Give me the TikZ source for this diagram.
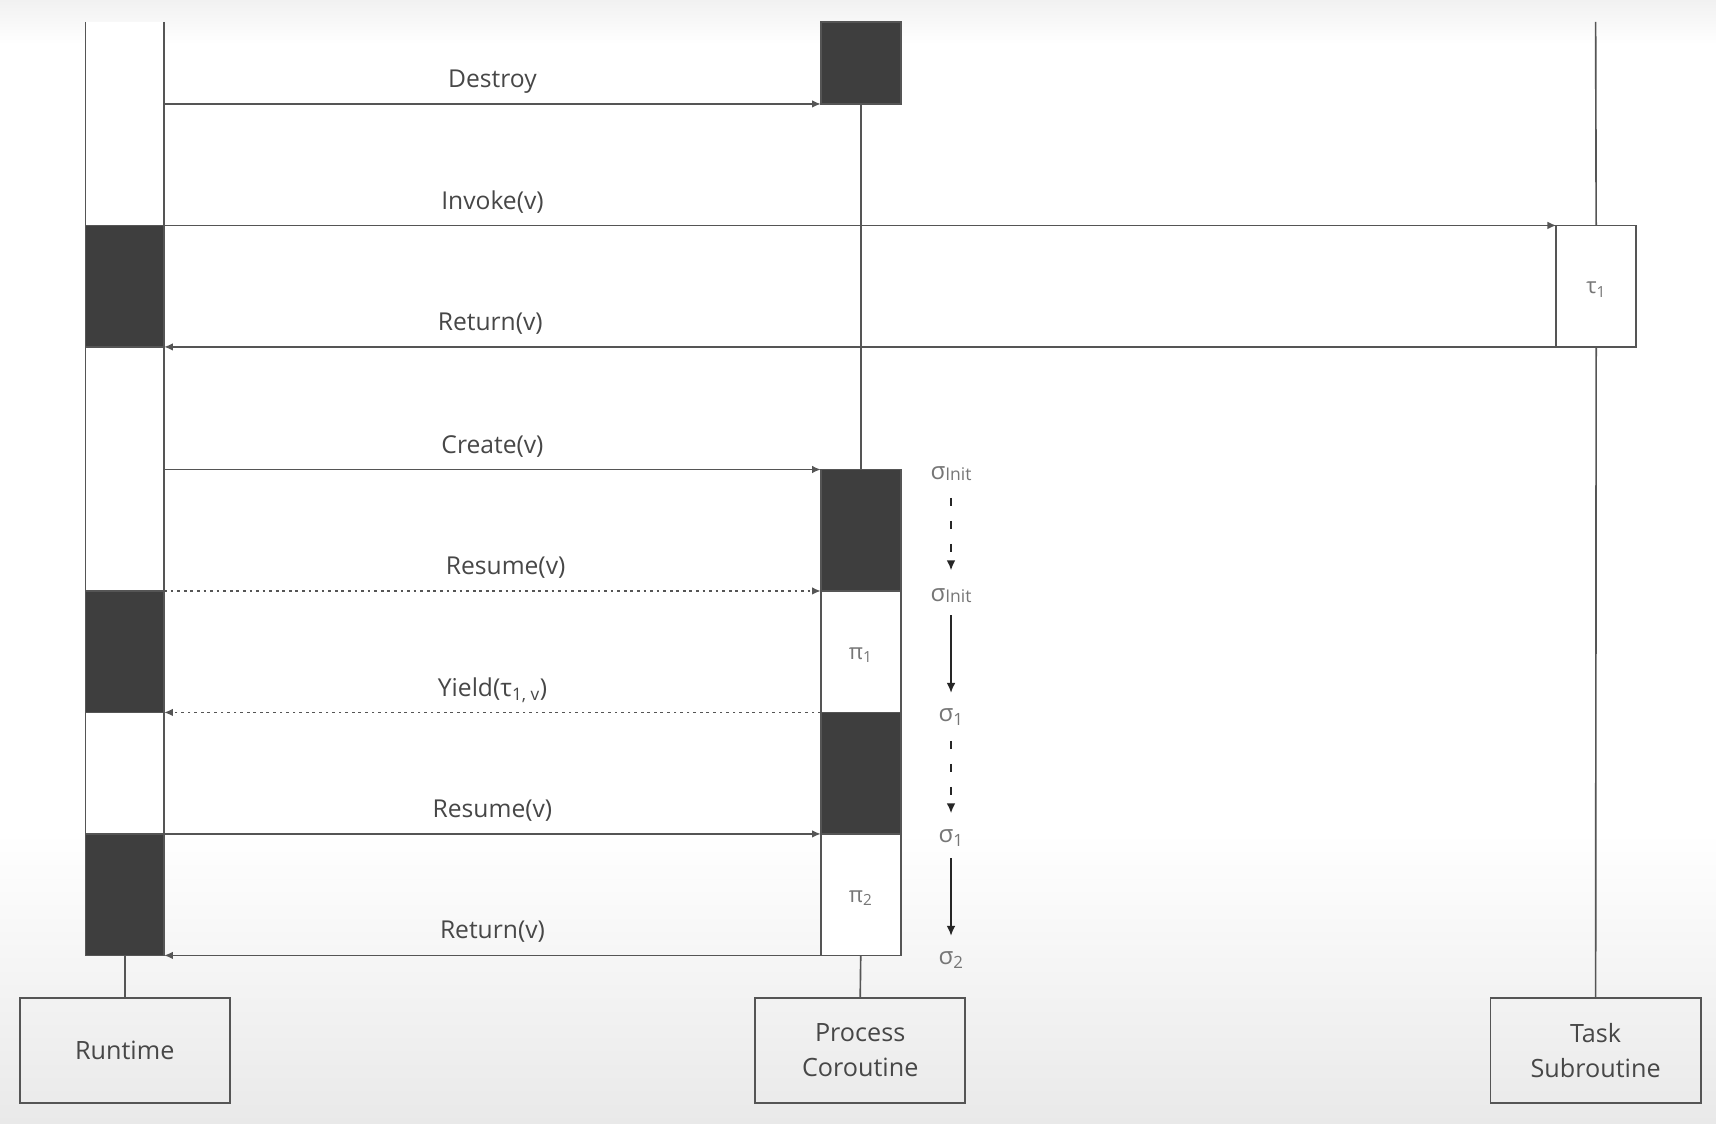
\documentclass[tikz,border=0pt]{standalone}
\usepackage{fontspec}
\setmainfont{Open Sans}
\usetikzlibrary{arrows.meta,calc}
\definecolor{ln}{HTML}{555555}
\definecolor{blk}{HTML}{3E3E3E}
\definecolor{txt}{HTML}{474747}
\definecolor{st}{HTML}{767676}
\definecolor{bgbot}{HTML}{E9E9E9}
\definecolor{bgtop}{HTML}{F1F1F1}
\begin{document}
\begin{tikzpicture}[x=1pt,y=-1pt,
  line/.style={draw=ln, line width=1.5pt},
  msg/.style={draw=ln, line width=1.5pt, -{Latex[length=8pt,width=7pt]}},
  dotmsg/.style={msg, line width=1.7pt, dash pattern=on 2.5pt off 3.5pt},
  act/.style={draw=ln, line width=1.5pt, fill=white, inner sep=0pt, outer sep=0pt,
              minimum width=73pt, minimum height=111pt},
  actb/.style={act, fill=blk},
  lbl/.style={text=txt, font=\fontsize{22.5}{26}\selectfont, inner sep=0pt, anchor=base},
  head/.style={draw=ln, line width=1.5pt, inner sep=0pt, outer sep=0pt,
               minimum width=192pt, minimum height=96pt, text=txt, align=center,
               font=\fontsize{23}{32}\selectfont},
  small/.style={text=st, font=\fontsize{20}{22}\selectfont, inner sep=0pt},
  state/.style={text=st, font=\fontsize{22}{24}\selectfont, inner sep=0pt},
  stsolid/.style={draw=black!85, line width=1.4pt, -{Latex[length=9pt,width=8pt]}},
  stdash/.style={stsolid, dash pattern=on 7pt off 14pt}
]
% background
\useasboundingbox (0,0) rectangle (1568,1027);
\fill[white] (0,0) rectangle (1568,1027);
\shade[top color=bgtop, bottom color=white] (0,0) rectangle (1568,40);
\shade[top color=white, bottom color=bgbot] (0,760) rectangle (1568,1027);

% heads
\node[head] (rtbox) at (114,960) {Runtime};
\node[head] (pcbox) at (786,960) {Process\\Coroutine};
\node[head] (tsbox) at (1458,960) {Task\\Subroutine};

% runtime column
\fill[white] (78,20) rectangle (150,873);
\coordinate (rtTL) at (78,20);
\coordinate (rtTR) at (150,20);
\coordinate (rtBL) at (78,873);
\coordinate (rtBR) at (150,873);
\draw[line] (rtTL) -- (rtBL);
\draw[line] (rtTR) -- (rtBR);
\node[actb, minimum width=72pt] (rA) at (114,261.5) {};
\node[actb, minimum width=72pt] (rB) at (114,595.5) {};
\node[actb, minimum width=72pt] (rC) at (114,817.5) {};

% process column
\node[actb, minimum height=75pt] (pA) at (786.5,57.5) {};
\node[actb] (pB) at (786.5,484.5) {};
\node[act] (pC) at (786.5,595.5) {};
\node[actb] (pD) at (786.5,706.5) {};
\node[act] (pE) at (786.5,817.5) {};
\node[small] at ($(pC)+(0,3)$) {π\textsubscript{1}};
\node[small] at ($(pE)+(0,3)$) {π\textsubscript{2}};

% task column
\coordinate (tTop) at (1458,20);
\node[act] (tA) at (1458.5,261.5) {};
\node[small] at ($(tA)+(0,3)$) {τ\textsubscript{1}};

% lifeline stems
\draw[line] (pA.south) -- (pB.north);
\draw[line] (pE.south) -- (pcbox.north);
\draw[line] (rC.south) -- (rtbox.north);
\draw[line] (tTop) -- (tA.north);
\draw[line] (tA.south) -- (tsbox.north);

% messages
\coordinate (m1) at (150,95);
\coordinate (m4) at (150,429);
\draw[msg] (m1) -- (pA.south west) node[lbl, pos=0.5, yshift=15pt] {Destroy};
\draw[msg] (rA.north east) -- (tA.north west);
\node[lbl] at (450,191) {Invoke(v)};
\draw[msg] (tA.south west) -- (rA.south east);
\node[lbl] at (448,302) {Return(v)};
\draw[msg] (m4) -- (pB.north west) node[lbl, pos=0.5, yshift=15pt] {Create(v)};
\draw[dotmsg] (rB.north east) -- (pC.north west) node[lbl, pos=0.52, yshift=15pt] {Resume(v)};
\draw[dotmsg] (pD.north west) -- (rB.south east) node[lbl, pos=0.5, yshift=15pt] {Yield(τ\textsubscript{1, v})};
\draw[msg] (rC.north east) -- (pE.north west) node[lbl, pos=0.5, yshift=15pt] {Resume(v)};
\draw[msg] (pE.south west) -- (rC.south east) node[lbl, pos=0.5, yshift=15pt] {Return(v)};

% states
\newcommand{\stinit}{σ{\fontsize{16}{16}\selectfont\raisebox{-1pt}{Init}}}
\node[state] (s1) at (869,433) {\stinit};
\node[state] (s2) at (869,544) {\stinit};
\node[state] (s3) at (869,655) {σ\textsubscript{1}};
\node[state] (s4) at (869,766) {σ\textsubscript{1}};
\node[state] (s5) at (869,877) {σ\textsubscript{2}};
\draw[stdash] ($(s1.center)+(0,22)$) -- ($(s2.center)+(0,-23)$);
\draw[stsolid] ($(s2.center)+(0,18)$) -- ($(s3.center)+(0,-22)$);
\draw[stdash] ($(s3.center)+(0,22)$) -- ($(s4.center)+(0,-23)$);
\draw[stsolid] ($(s4.center)+(0,18)$) -- ($(s5.center)+(0,-22)$);
\end{tikzpicture}
\end{document}
